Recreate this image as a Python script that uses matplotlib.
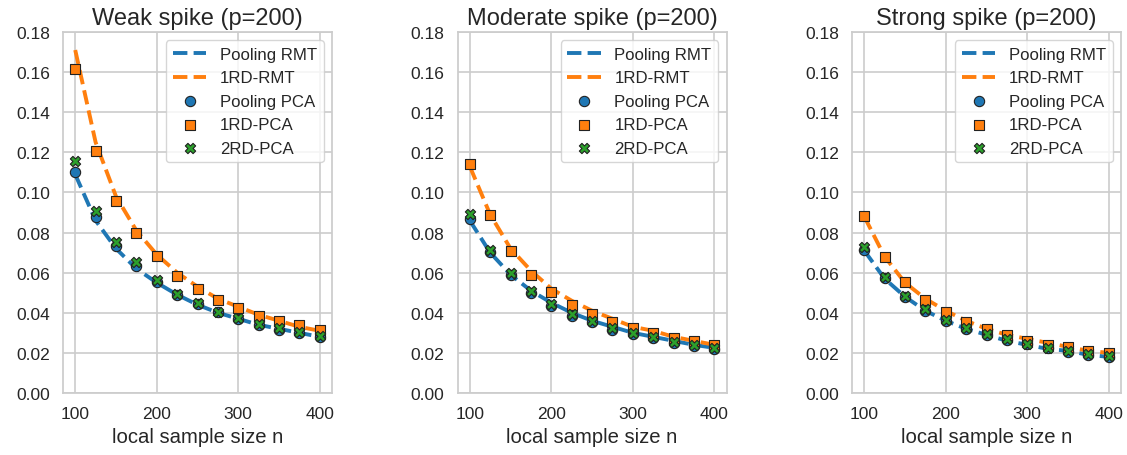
import matplotlib
matplotlib.use("Agg")
import matplotlib.pyplot as plt
import seaborn as sns
import numpy as np

sns.set_theme(style="whitegrid", context="notebook")
plt.rcParams['font.family'] = ['Liberation Sans', 'DejaVu Sans']

n_values = [100, 125, 150, 175, 200, 225, 250, 275, 300, 325, 350, 375, 400]
titles = ["Weak spike (p=200)", "Moderate spike (p=200)", "Strong spike (p=200)"]

weak_pool_rmt = [0.109, 0.086, 0.072, 0.062, 0.055, 0.049, 0.044, 0.040, 0.037, 0.034, 0.032, 0.030, 0.028]
weak_1rd_rmt = [0.171, 0.125, 0.098, 0.081, 0.069, 0.060, 0.053, 0.047, 0.043, 0.039, 0.036, 0.033, 0.031]
weak_pool_pca = [0.110, 0.0876, 0.0731, 0.0632, 0.0552, 0.0489, 0.0444, 0.0402, 0.0369, 0.0339, 0.0314, 0.0299, 0.0278]
weak_1rd_pca = [0.1613, 0.1209, 0.0959, 0.0796, 0.0682, 0.0582, 0.0519, 0.0466, 0.0426, 0.0382, 0.0357, 0.0339, 0.0316]
weak_2rd_pca = [0.1159, 0.0909, 0.0751, 0.0651, 0.0564, 0.0494, 0.0449, 0.0406, 0.0376, 0.0344, 0.0323, 0.0306, 0.0286]

mod_pool_rmt = [0.086, 0.070, 0.059, 0.051, 0.045, 0.040, 0.036, 0.033, 0.030, 0.028, 0.026, 0.024, 0.0225]
mod_1rd_rmt = [0.113, 0.089, 0.072, 0.061, 0.052, 0.046, 0.041, 0.037, 0.033, 0.031, 0.028, 0.026, 0.024]
mod_pool_pca = [0.0868, 0.0705, 0.0589, 0.0500, 0.0436, 0.0386, 0.0353, 0.0315, 0.0292, 0.0272, 0.0248, 0.0236, 0.0218]
mod_1rd_pca = [0.1144, 0.0889, 0.0710, 0.0590, 0.0502, 0.0440, 0.0394, 0.0352, 0.0322, 0.0299, 0.0274, 0.0258, 0.0241]
mod_2rd_pca = [0.0893, 0.0712, 0.0600, 0.0510, 0.0442, 0.0392, 0.0360, 0.0322, 0.0300, 0.0280, 0.0252, 0.0240, 0.0222]

str_pool_rmt = [0.071, 0.057, 0.048, 0.041, 0.036, 0.032, 0.029, 0.026, 0.024, 0.022, 0.021, 0.019, 0.018]
str_1rd_rmt = [0.088, 0.068, 0.055, 0.047, 0.041, 0.036, 0.032, 0.029, 0.027, 0.025, 0.023, 0.021, 0.020]
str_pool_pca = [0.0715, 0.0572, 0.0480, 0.0410, 0.0357, 0.0319, 0.0289, 0.0266, 0.0244, 0.0223, 0.0206, 0.0191, 0.0178]
str_1rd_pca = [0.0884, 0.0676, 0.0552, 0.0466, 0.0402, 0.0356, 0.0319, 0.0290, 0.0260, 0.0239, 0.0228, 0.0211, 0.0199]
str_2rd_pca = [0.0730, 0.0580, 0.0485, 0.0418, 0.0362, 0.0322, 0.0292, 0.0270, 0.0245, 0.0225, 0.0210, 0.0196, 0.0182]

panels = [
    (weak_pool_rmt, weak_1rd_rmt, weak_pool_pca, weak_1rd_pca, weak_2rd_pca),
    (mod_pool_rmt, mod_1rd_rmt, mod_pool_pca, mod_1rd_pca, mod_2rd_pca),
    (str_pool_rmt, str_1rd_rmt, str_pool_pca, str_1rd_pca, str_2rd_pca),
]

blue = "#1f77b4"
orange = "#ff7f0e"
green = "#2ca02c"

fig = plt.figure(figsize=(11.27, 4.56), dpi=100)
lefts = [0.0559, 0.406, 0.756]
yt = np.round(np.arange(0, 0.181, 0.02), 2)
for i, (left, title, data) in enumerate(zip(lefts, titles, panels)):
    ax = fig.add_axes([left, 0.136, 0.2387, 0.7917])
    prmt, ormt, ppca, opca, tpca = data
    ax.plot(n_values, prmt, ls='--', color=blue, lw=2.8, label="Pooling RMT", zorder=2)
    ax.plot(n_values, ormt, ls='--', color=orange, lw=2.8, label="1RD-RMT", zorder=2)
    ax.scatter(n_values, ppca, marker='o', s=55, color=blue, edgecolor='#222222', linewidth=0.8, label="Pooling PCA", zorder=3)
    ax.scatter(n_values, opca, marker='s', s=55, color=orange, edgecolor='#222222', linewidth=0.8, label="1RD-PCA", zorder=3)
    ax.scatter(n_values, tpca, marker='X', s=55, color=green, edgecolor='#222222', linewidth=0.8, label="2RD-PCA", zorder=4)
    ax.set_ylim(0, 0.18)
    ax.set_yticks(yt)
    ax.set_yticklabels([f"{v:.2f}" for v in yt])
    ax.set_xticks([100, 200, 300, 400])
    ax.tick_params(labelsize=12.5)
    ax.grid(True, lw=1.2, color="#cccccc")
    for sp in ax.spines.values():
        sp.set_color("#cccccc")
        sp.set_linewidth(1.25)
    ax.set_title(title, fontsize=17)
    ax.set_xlabel("local sample size n", fontsize=14.6)
    ax.legend(loc='upper right', fontsize=12.1, frameon=True)

fig.savefig("out.png", dpi=100)
